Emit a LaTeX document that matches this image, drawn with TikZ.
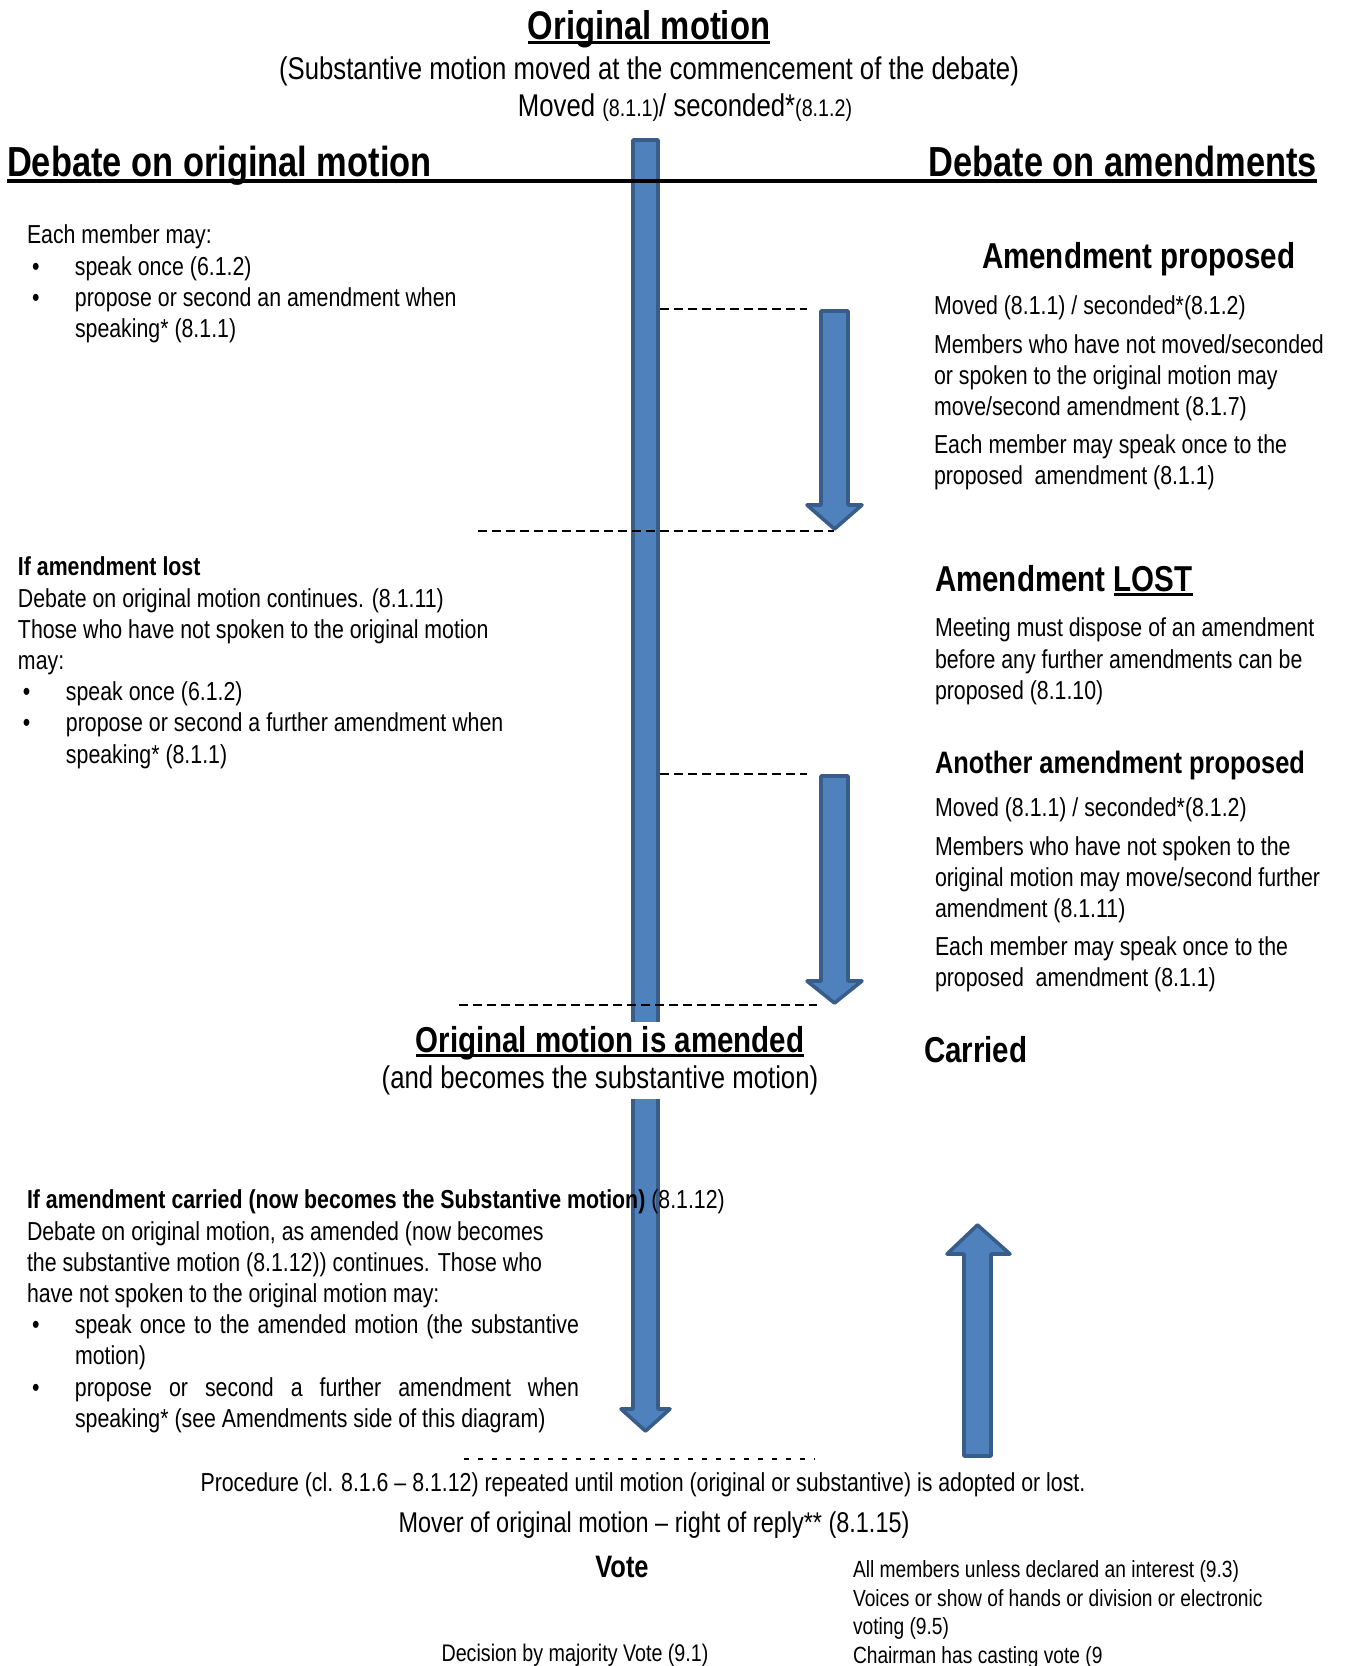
\documentclass[tikz,border=0pt]{standalone}
\usepackage{fontspec}
\setmainfont{Liberation Sans}[FakeStretch=0.82]
\usetikzlibrary{positioning}

\definecolor{barblue}{HTML}{4F81BD}
\definecolor{baredge}{HTML}{385D8A}
\newcommand{\thickul}[1]{\setbox0=\hbox{#1}\rlap{\rule[-0.13em]{\wd0}{0.08em}}\box0}
\newcommand{\bulitem}{\hspace*{2.5pt}\makebox[21.5pt][l]{\textbullet}}
\newcommand{\bulcont}{\hspace*{24pt}}

\begin{document}
\begin{tikzpicture}[x=0.5pt, y=-0.5pt,
    every node/.style={inner sep=0pt, outer sep=0pt},
    bodytext/.style={align=left, anchor=north west, font=\fontsize{13}{15.6}\selectfont},
    header/.style={font=\fontsize{21}{25}\selectfont\bfseries},
    subhead/.style={font=\fontsize{18}{22}\selectfont\bfseries},
    midhead/.style={font=\fontsize{15.5}{18}\selectfont\bfseries},
    midtext/.style={font=\fontsize{15.7}{18}\selectfont},
    blockarrow/.style={fill=barblue, draw=baredge, line width=1.8pt, line join=round},
    dashline/.style={dash pattern=on 4.5pt off 2.5pt, line width=0.9pt},
    sparsedash/.style={dash pattern=on 2.5pt off 4.5pt, line width=0.9pt}
  ]
  \useasboundingbox (0,0) rectangle (1346,1666);

  % block arrows
  \draw[blockarrow] (633,140) -- (658,140) -- (658,1409) -- (670,1409) -- (645.5,1431) -- (621,1409) -- (633,1409) -- cycle;
  \draw[blockarrow] (821,311) -- (848,311) -- (848,505) -- (862,505) -- (834.5,529) -- (807,505) -- (821,505) -- cycle;
  \draw[blockarrow] (821,776) -- (848,776) -- (848,981) -- (862,981) -- (834.5,1003) -- (807,981) -- (821,981) -- cycle;
  \draw[blockarrow] (964,1456) -- (991,1456) -- (991,1254) -- (1010,1254) -- (977.5,1225) -- (947,1254) -- (964,1254) -- cycle;

  % top
  \node[font=\fontsize{20}{24}\selectfont\bfseries] (ttl) at (649,29) {\thickul{Original motion}};
  \node[midtext] (subttl) at (649,71) {(Substantive motion moved at the commencement of the debate)};
  \node[midtext] (moved) at (685,108) {Moved {\fontsize{12}{14}\selectfont(8.1.1)}/ seconded*{\fontsize{12}{14}\selectfont(8.1.2)}};

  \node[header, anchor=base west] (dleft) at (7,176) {Debate on original motion};
  \node[header, anchor=base east] (dright) at (1317,176) {Debate on amendments};
  \draw[line width=1.6pt] ([yshift=-2.5pt]dleft.base west) -- ([yshift=-2.5pt]dright.base east);

  % left side
  \node[bodytext] (lmay) at (27,225) {Each member may:\\
    \bulitem speak once (6.1.2)\\
    \bulitem propose or second an amendment when\\
    \bulcont speaking* (8.1.1)};
  \node[bodytext] (llost) at (18,557) {\textbf{If amendment lost}\\
    Debate on original motion continues. (8.1.11)\\
    Those who have not spoken to the original motion\\
    may:\\
    \bulitem speak once (6.1.2)\\
    \bulitem propose or second a further amendment when\\
    \bulcont speaking* (8.1.1)};
  \node[bodytext] (lcarried) at (27,1190) {\textbf{If amendment carried (now becomes the Substantive motion)} (8.1.12)\\
    Debate on original motion, as amended (now becomes\\
    the substantive motion (8.1.12)) continues. Those who\\
    have not spoken to the original motion may:\\
    \bulitem \makebox[252pt][s]{speak once to the amended motion (the substantive}\\
    \bulcont motion)\\
    \bulitem \makebox[252pt][s]{propose or second a further amendment when}\\
    \bulcont speaking* (see Amendments side of this diagram)};

  % right side
  \node[subhead, anchor=base west] (prop) at (982,268) {Amendment proposed};
  \node[bodytext] (propbody) at (934,296) {Moved (8.1.1) / seconded*(8.1.2)\\[3.5pt]
    Members who have not moved/seconded\\
    or spoken to the original motion may\\
    move/second amendment (8.1.7)\\[3.5pt]
    Each member may speak once to the\\
    proposed\ \ amendment (8.1.1)};
  \node[subhead, anchor=base west] (lost) at (935,591) {Amendment \thickul{LOST}};
  \node[bodytext] (lostbody) at (935,618) {Meeting must dispose of an amendment\\
    before any further amendments can be\\
    proposed (8.1.10)};
  \node[midhead, anchor=base west] (another) at (935,773) {Another amendment proposed};
  \node[bodytext, below=12.5pt of another.base west, anchor=north west] (anotherbody) {Moved (8.1.1) / seconded*(8.1.2)\\[3.5pt]
    Members who have not spoken to the\\
    original motion may move/second further\\
    amendment (8.1.11)\\[3.5pt]
    Each member may speak once to the\\
    proposed\ \ amendment (8.1.1)};
  \node[subhead, anchor=base west] (carried) at (924,1062) {Carried};

  % dashed marks
  \coordinate (tick1) at (807,309);
  \coordinate (tick3) at (807,774);
  \draw[dashline] (660,309) -- (tick1);
  \draw[dashline] (478,531) -- (834,531);
  \draw[dashline] (660,774) -- (tick3);
  \draw[dashline] (459,1005) -- (817,1005);
  \draw[sparsedash] (464,1459) -- (815,1459);

  \node[subhead, anchor=base, fill=white, inner ysep=2pt] (amended) at (610,1052) {\thickul{Original motion is amended}};
  \node[midtext, fill=white, inner ysep=2pt] (becomes) at (600,1080) {(and becomes the substantive motion)};

  % bottom
  \node[font=\fontsize{13}{15.6}\selectfont] (proc) at (643,1485) {Procedure (cl. 8.1.6 – 8.1.12) repeated until motion (original or substantive) is adopted or lost.};
  \node[font=\fontsize{14.3}{17}\selectfont] (reply) at (654,1525) {Mover of original motion – right of reply** (8.1.15)};
  \node[midhead] (vote) at (622,1567) {Vote};
  \node[font=\fontsize{12}{14}\selectfont] (decision) at (575,1655) {Decision by majority Vote (9.1)};
  \node[align=left, anchor=north west, font=\fontsize{11.7}{14.2}\selectfont] (voting) at (853,1561) {All members unless declared an interest (9.3)\\
    Voices or show of hands or division or electronic\\
    voting (9.5)\\
    Chairman has casting vote (9};
\end{tikzpicture}
\end{document}
